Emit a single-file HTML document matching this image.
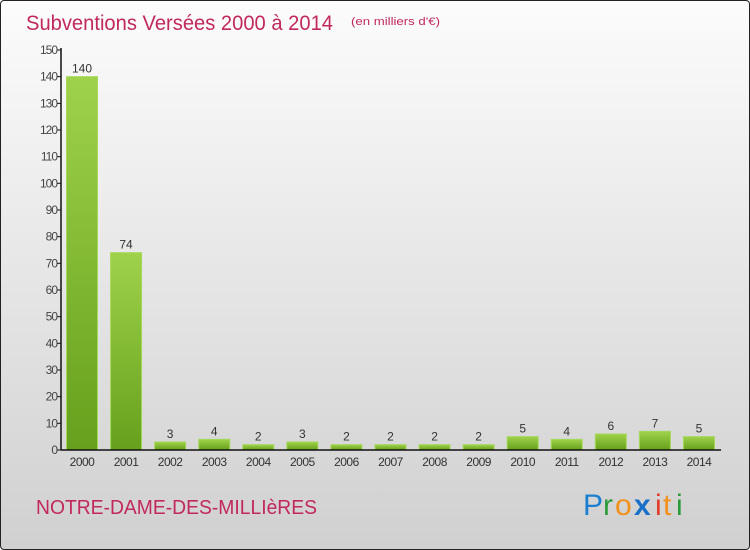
<!DOCTYPE html>
<html><head><meta charset="utf-8">
<style>
html,body{margin:0;padding:0}
body{width:750px;height:550px;overflow:hidden;font-family:"Liberation Sans",sans-serif}
#frame{position:absolute;left:0;top:0;width:748px;height:548px;border:1px solid #222;border-radius:4px;background:linear-gradient(#fcfcfc,#d0d0d0);overflow:hidden}
</style></head><body>
<div id="frame">
<svg width="750" height="550" style="position:absolute;left:-1px;top:-1px">
<defs>
<linearGradient id="bg" x1="0" y1="0" x2="0" y2="1"><stop offset="0" stop-color="#9fd24a"/><stop offset="1" stop-color="#66a01c"/></linearGradient>
</defs>
<text x="26" y="30" font-size="21" fill="#c2285e" textLength="307" lengthAdjust="spacingAndGlyphs">Subventions Versées 2000 à 2014</text>
<text x="351" y="25" font-size="11" fill="#c2285e" textLength="89" lengthAdjust="spacingAndGlyphs">(en milliers d'€)</text>
<g id="yaxis"></g>
<g id="bars"></g>
<g id="xaxis"></g>
<text x="36" y="514" font-size="20" fill="#c2285e" textLength="281" lengthAdjust="spacingAndGlyphs">NOTRE-DAME-DES-MILLIèRES</text>
<g font-size="30" font-family="Liberation Sans, sans-serif">
<text x="583" y="515" fill="#1a7fd0">P</text><text x="603" y="515" fill="#2a9a3a">r</text><text x="615" y="515" fill="#f39019">o</text><text x="634" y="515" fill="#1a6fc8" font-weight="bold">x</text><text x="655" y="515" fill="#e23b2a">i</text><text x="663" y="515" fill="#f39019">t</text><text x="676" y="515" fill="#2a9a3a">i</text>
</g>
</svg>
</div>
<script>
const categories=["2000","2001","2002","2003","2004","2005","2006","2007","2008","2009","2010","2011","2012","2013","2014"];
const values=[140,74,3,4,2,3,2,2,2,2,5,4,6,7,5];
const yTicks=[0,10,20,30,40,50,60,70,80,90,100,110,120,130,140,150];
const NS="http://www.w3.org/2000/svg";
const y0=450,yTop=50,yMax=150,xAxis=61;
const y=v=>y0-(v/yMax)*(y0-yTop);
const step=44.07,x=i=>82+i*step,bw=31;
function mk(t,a,p,txt){const e=document.createElementNS(NS,t);for(const k in a)e.setAttribute(k,a[k]);if(txt!==undefined)e.textContent=txt;p.appendChild(e);return e;}
const ya=document.getElementById('yaxis'),ba=document.getElementById('bars'),xa=document.getElementById('xaxis');
const yl=mk('line',{x1:xAxis,x2:xAxis,y1:y(yMax)-2,y2:y0,stroke:'#111','stroke-width':1.5},ya);


yTicks.forEach(t=>{
 const l=mk('line',{x1:xAxis-4,x2:xAxis,y1:y(t),y2:y(t),stroke:'#111'},ya);
 
 
 const tx=mk('text',{x:xAxis-4,y:y(t)+4,'font-size':12,fill:'#444','text-anchor':'end','letter-spacing':'-1'},ya,t);
 
 
});
values.forEach((v,i)=>{
 const r=mk('rect',{x:x(i)-bw/2,y:y(v),width:bw,height:y0-y(v),fill:'url(#bg)',stroke:'#a6d85a','stroke-width':1},ba);
 
 
 const t=mk('text',{x:x(i),y:y(v)-4,'font-size':12,fill:'#333','text-anchor':'middle'},ba,v);
 
 
 const c=mk('text',{x:x(i),y:466,'font-size':12,fill:'#333','text-anchor':'middle','letter-spacing':'-0.5'},xa,categories[i]);
 
 
});
const xl=mk('line',{x1:xAxis,x2:721,y1:y0,y2:y0,stroke:'#111','stroke-width':1.5},xa);


</script>
</body></html>
